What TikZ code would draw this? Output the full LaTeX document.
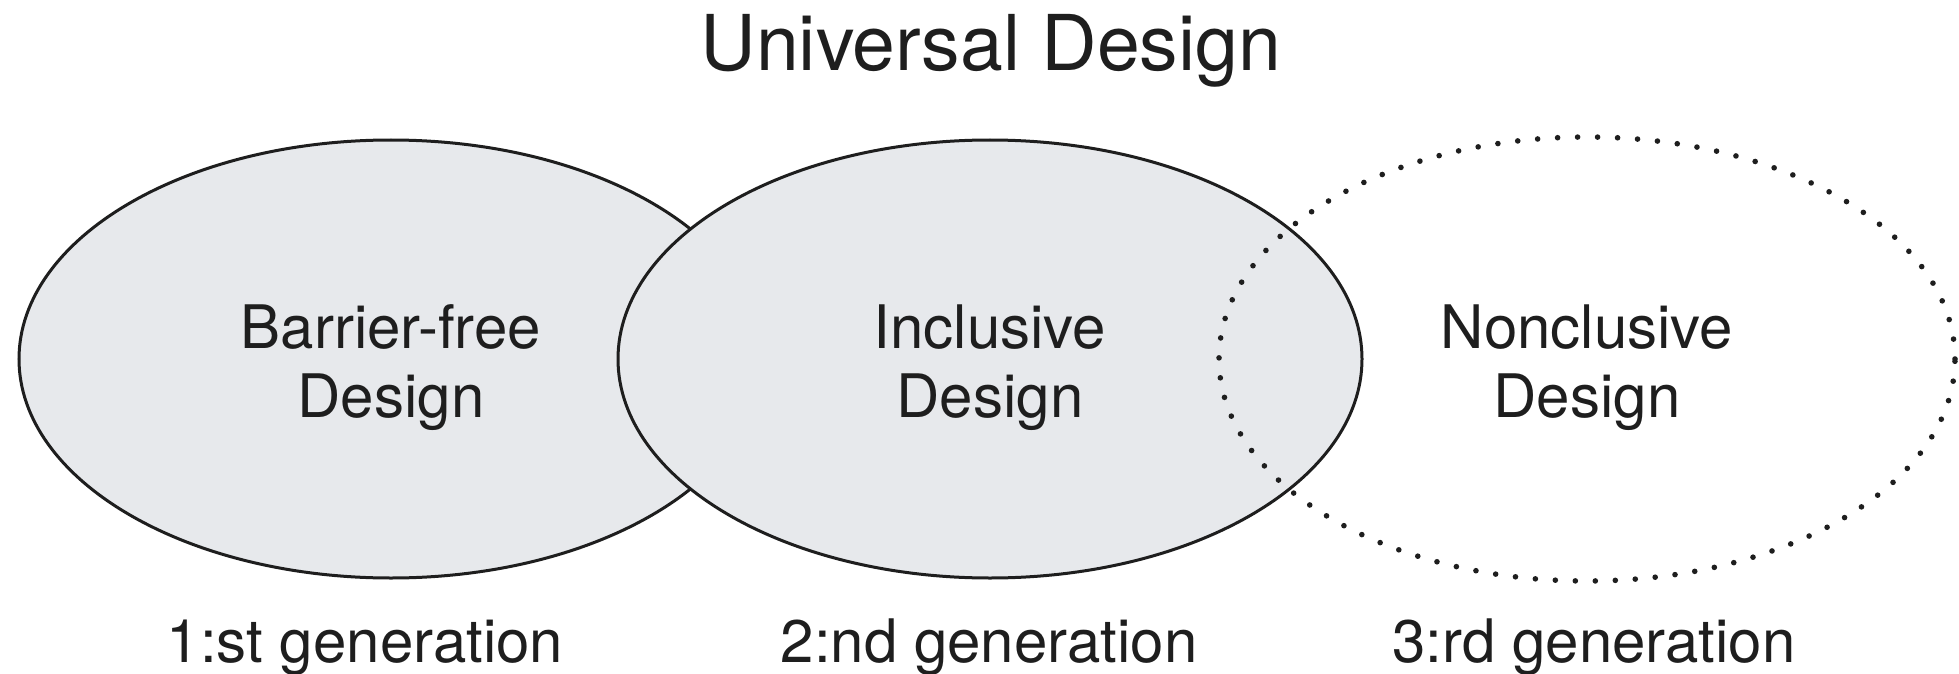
\documentclass[tikz,border=0pt]{standalone}
\usepackage{fontspec}
\setmainfont{TeX Gyre Heros}
\usetikzlibrary{shapes.geometric}
\definecolor{setfill}{RGB}{231,233,236}
\definecolor{ink}{RGB}{30,30,30}
\begin{document}
\begin{tikzpicture}[x=0.5pt,y=-0.5pt,
  gen/.style={ellipse, draw=ink, line width=1.5pt, fill=setfill,
    minimum width=372pt, minimum height=219pt, inner sep=0pt},
  future/.style={gen, fill=none, line width=2.8pt,
    dash pattern=on 0pt off 10pt, line cap=round,
    minimum width=368pt, minimum height=222pt},
  setname/.style={align=center, text=ink, inner sep=0pt,
    font=\fontsize{30}{34.5}\selectfont},
  genlabel/.style={anchor=base, text=ink, font=\fontsize{30}{34.5}\selectfont},
  headline/.style={anchor=base, text=ink, font=\fontsize{38.5}{44}\selectfont}]
  \useasboundingbox (0,0) rectangle (1959,674);

  % title
  \node[headline] (ud) at (991,71) {Universal Design};

  % the three generations as overlapping ellipses
  \node[gen] (bf) at (391,359) {};
  \node[gen] (inc) at (990,359) {};
  \node[future] (non) at (1587,359) {};

  % names inside the ellipses
  \node[setname] (bft) at ([yshift=-4.5pt]bf.center) {Barrier-free\\Design};
  \node[setname] (inct) at ([yshift=-4.5pt]inc.center) {Inclusive\\Design};
  \node[setname] (nont) at ([yshift=-4.5pt]non.center) {Nonclusive\\Design};

  % captions
  \node[genlabel] (g1) at (365,662) {1:st generation};
  \node[genlabel] (g2) at (989,662) {2:nd generation};
  \node[genlabel] (g3) at (1594,662) {3:rd generation};
\end{tikzpicture}
\end{document}
